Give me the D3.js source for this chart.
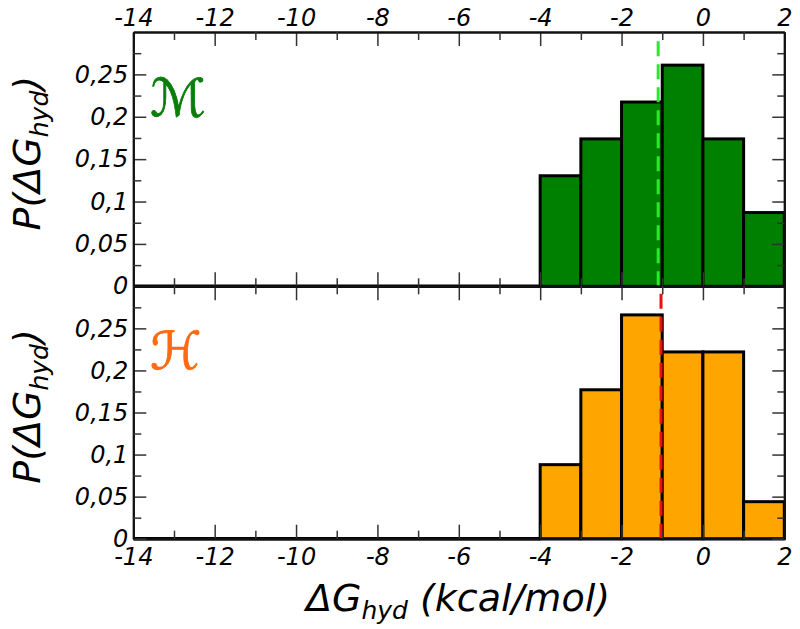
<!DOCTYPE html>
<html><head><meta charset="utf-8">
<script src="https://cdn.jsdelivr.net/npm/d3@7"></script>
<style>body{margin:0;background:#fff}svg{display:block}</style>
</head><body><svg id="c" width="800" height="629"></svg>
<script>
// ---- data ----
const binStarts = [-4, -3, -2, -1, 0, 1];
const valuesM = [0.1304, 0.1739, 0.2174, 0.2609, 0.1739, 0.0870];
const valuesH = [0.088, 0.177, 0.266, 0.222, 0.222, 0.044];
const meanM = -1.1;
const meanH = -1.03;
const xMajorTicks = [-14, -12, -10, -8, -6, -4, -2, 0, 2];
const xMinorTicks = [-13, -11, -9, -7, -5, -3, -1, 1];
const yMajorTicks = [0, 0.05, 0.1, 0.15, 0.2, 0.25];
const yMinorTicks = [0.025, 0.075, 0.125, 0.175, 0.225, 0.275];
const panelLabels = ["\u2133", "\u210B"];

const svg = d3.select("#c");
const x = d3.scaleLinear().domain([-14, 2]).range([133.3, 784.3]);
const panels = [
  {y: d3.scaleLinear().domain([0, 0.3]).range([286.3, 32]), vals: valuesM, fill: "#008000", label: panelLabels[0], labelColor: "#0a7d0a", mean: meanM, meanColor: "#2be82b", top: true},
  {y: d3.scaleLinear().domain([0, 0.3]).range([538.7, 286.3]), vals: valuesH, fill: "#ffa500", label: panelLabels[1], labelColor: "#ff6a10", mean: meanH, meanColor: "#e81010", top: false}
];
const fmtY = d => d === 0 ? "0" : String(+d.toFixed(3)).replace(".", ",");
const fmtX = d => String(d);
const font = "'DejaVu Sans', Verdana, sans-serif";

panels.forEach((p, i) => {
  const g = svg.append("g");
  const y = p.y;
  const [y0, y1] = y.range();
  g.selectAll("rect.bar").data(p.vals).join("rect")
    .attr("x", (d, j) => x(binStarts[j]))
    .attr("width", (d, j) => x(binStarts[j] + 1) - x(binStarts[j]))
    .attr("y", d => y(d))
    .attr("height", d => y(0) - y(d))
    .attr("fill", p.fill).attr("stroke", "#000").attr("stroke-width", 3);
  g.append("line").attr("x1", x(-14)).attr("x2", x(-4)).attr("y1", y(0)).attr("y2", y(0))
    .attr("stroke", "#000").attr("stroke-width", 3.5);
  g.append("line").attr("x1", x(p.mean)).attr("x2", x(p.mean))
    .attr("y1", y(0)).attr("y2", y1)
    .attr("stroke", p.meanColor).attr("stroke-width", 3).attr("stroke-dasharray", "15,8");

  const axStyle = sel => {
    sel.select(".domain").attr("stroke", "#111").attr("stroke-width", 2);
    sel.selectAll(".tick line").attr("stroke", "#333").attr("stroke-width", 1.5);
    sel.selectAll("text").attr("font-family", font).attr("font-style", "italic").attr("font-size", 24).attr("fill", "#000");
  };
  const axT = g.append("g").attr("transform", `translate(0,${y1})`)
    .call(d3.axisTop(x).tickValues(xMajorTicks).tickFormat(p.top ? fmtX : "").tickSizeInner(-14).tickSizeOuter(0).tickPadding(6));
  axStyle(axT);
  const axTm = g.append("g").attr("transform", `translate(0,${y1})`)
    .call(d3.axisTop(x).tickValues(xMinorTicks).tickFormat("").tickSizeInner(-8).tickSizeOuter(0));
  axStyle(axTm);
  const axB = g.append("g").attr("transform", `translate(0,${y0})`)
    .call(d3.axisBottom(x).tickValues(xMajorTicks).tickFormat(p.top ? "" : fmtX).tickSizeInner(-14).tickSizeOuter(0).tickPadding(9));
  axStyle(axB);
  const axBm = g.append("g").attr("transform", `translate(0,${y0})`)
    .call(d3.axisBottom(x).tickValues(xMinorTicks).tickFormat("").tickSizeInner(-8).tickSizeOuter(0));
  axStyle(axBm);
  const axL = g.append("g").attr("transform", `translate(${x(-14)},0)`)
    .call(d3.axisLeft(y).tickValues(yMajorTicks).tickFormat(fmtY).tickSizeInner(-13).tickSizeOuter(0).tickPadding(5));
  axStyle(axL);
  const axLm = g.append("g").attr("transform", `translate(${x(-14)},0)`)
    .call(d3.axisLeft(y).tickValues(yMinorTicks).tickFormat("").tickSizeInner(-8).tickSizeOuter(0));
  axStyle(axLm);
  const axR = g.append("g").attr("transform", `translate(${x(2)},0)`)
    .call(d3.axisRight(y).tickValues(yMajorTicks).tickFormat("").tickSizeInner(-12).tickSizeOuter(0));
  axStyle(axR);
  const axRm = g.append("g").attr("transform", `translate(${x(2)},0)`)
    .call(d3.axisRight(y).tickValues(yMinorTicks).tickFormat("").tickSizeInner(-7).tickSizeOuter(0));
  axStyle(axRm);

  // panel label
  g.append("text").attr("x", 150).attr("y", y(0.2) - 1)
    .attr("font-family", "'DejaVu Sans', sans-serif").attr("font-style", "italic").attr("font-size", 52)
    .attr("fill", p.labelColor).attr("stroke", p.labelColor).attr("stroke-width", 0.8).text(p.label);

  // y-axis title
  const cy = (y0 + y1) / 2 - 6;
  const t = g.append("text").attr("transform", `translate(40,${cy}) rotate(-90)`)
    .attr("text-anchor", "middle").attr("font-family", font).attr("font-style", "italic").attr("font-size", 38);
  t.append("tspan").text("P(\u0394G");
  t.append("tspan").attr("font-size", 25).attr("dy", 8).text("hyd");
  t.append("tspan").attr("dy", -8).text(")");
});

const xt = svg.append("text").attr("x", 458).attr("y", 611).attr("text-anchor", "middle")
  .attr("font-family", font).attr("font-style", "italic").attr("font-size", 38);
xt.append("tspan").text("\u0394G");
xt.append("tspan").attr("font-size", 25).attr("dy", 8).text("hyd");
xt.append("tspan").attr("dy", -8).text(" (kcal/mol)");
</script></body></html>
